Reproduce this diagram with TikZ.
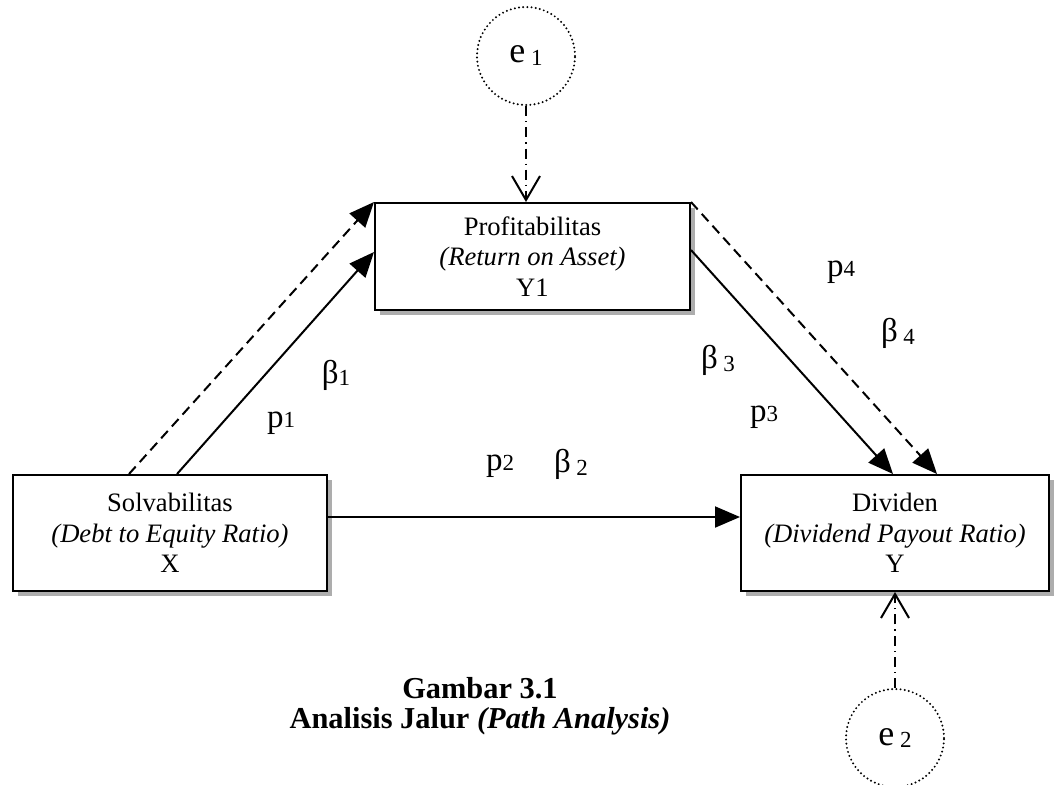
\documentclass[tikz,border=0pt]{standalone}
\usepackage{fontspec}
\setmainfont{Liberation Serif}
\usetikzlibrary{arrows.meta,shadows}
\newcommand\lowsub[2][-1.5pt]{\raisebox{#1}{\fontsize{11.5}{11.5}\selectfont #2}}
\newcommand\itline[1]{{\itshape #1}}
\begin{document}
\begin{tikzpicture}[x=0.5pt,y=-0.5pt,
  varbox/.style={draw=black,line width=1pt,fill=white,align=center,inner sep=1pt,
    font=\fontsize{13.3}{15.2}\selectfont,
    drop shadow={shadow xshift=2.6pt,shadow yshift=-2.6pt,fill=black!32,opacity=1}},
  errc/.style={circle,draw=black,line width=1.1pt,line cap=round,
    dash pattern=on 0pt off 2.1pt,minimum size=49pt,inner sep=0pt,
    font=\fontsize{18}{18}\selectfont},
  lbl/.style={font=\fontsize{16.5}{16.5}\selectfont,inner sep=0pt},
  path/.style={line width=1pt,-{Triangle[length=12.5pt,width=10.5pt]}},
  dpath/.style={path,dash pattern=on 5pt off 3pt},
  errpath/.style={line width=1pt,dash pattern=on 5pt off 2.5pt on 0.6pt off 2.5pt,
    -{Straight Barb[length=12pt,width=14pt,line width=1pt]}},
  caption/.style={font=\fontsize{15.2}{15}\selectfont\bfseries,inner sep=0pt,align=center}]
\useasboundingbox (0,0) rectangle (1055,784);
\fill[white] (0,0) rectangle (1055,784);

\node[varbox,minimum width=157.5pt,minimum height=53.5pt] (Y1) at (532.5,256.5)
  {Profitabilitas\\\itline{(Return on Asset)}\\Y1};
\node[varbox,minimum width=157pt,minimum height=58pt] (X) at (170,533)
  {Solvabilitas\\\itline{(Debt to Equity Ratio)}\\X};
\node[varbox,minimum width=154pt,minimum height=58pt] (Y) at (895,533)
  {Dividen\\\itline{(Dividend Payout Ratio)}\\Y};

\node[errc] (e1) at (526,56) {e\,\lowsub{1}};
\node[errc] (e2) at (895,738) {e\,\lowsub{2}};

\draw[errpath] (e1.south) -- (Y1.north -| e1.south);
\draw[errpath] (e2.north) -- (Y.south -| e2.north);

\draw[path] (X.north -| 177,0) -- (Y1.west |- 0,252);
\draw[dpath] (X.north -| 129,0) -- (Y1.north west);
\draw[path] (Y1.east |- 0,250) -- (Y.north -| 893,0);
\draw[dpath] (Y1.north east) -- (Y.north -| 937,0);
\draw[path] (X.east |- 0,517) -- (Y.west |- 0,517);

\node[lbl] (b1) at (336,375) {β\lowsub[-1pt]{1}};
\node[lbl] (p1) at (281,423) {p\lowsub[0pt]{1}};
\node[lbl] (p2) at (500,466) {p\lowsub[0pt]{2}};
\node[lbl] (b2) at (571,464) {β\,\lowsub{2}};
\node[lbl] (b3) at (718,360) {β\,\lowsub{3}};
\node[lbl] (p3) at (764,417) {p\lowsub[0pt]{3}};
\node[lbl] (p4) at (841,272) {p\lowsub[0pt]{4}};
\node[lbl] (b4) at (898,333) {β\,\lowsub{4}};

\node[caption] (cap) at (480,706) {Gambar 3.1\\Analisis Jalur \textit{(Path Analysis)}};
\end{tikzpicture}
\end{document}
